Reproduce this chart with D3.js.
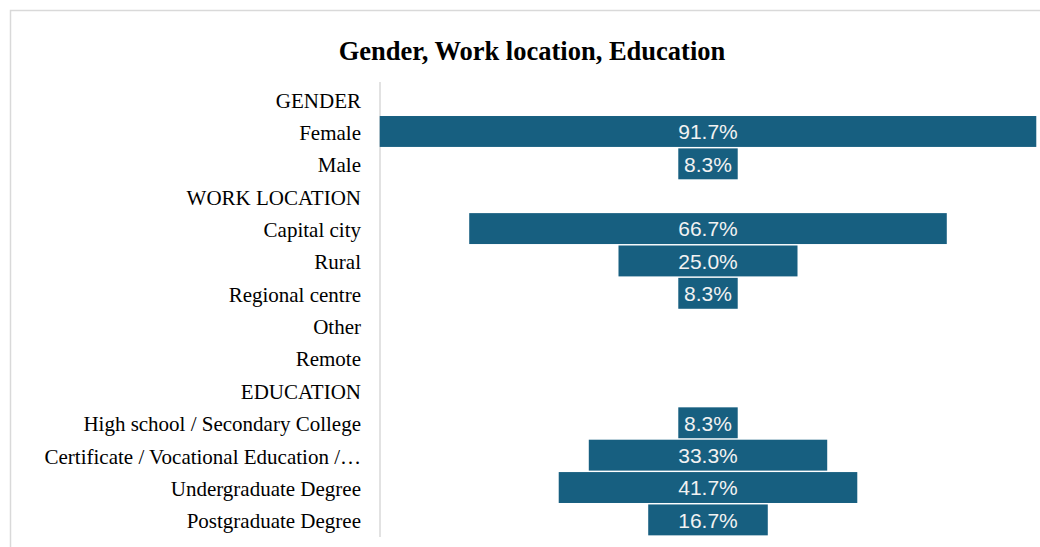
<!DOCTYPE html>
<html>
<head>
<meta charset="utf-8">
<script src="https://cdn.jsdelivr.net/npm/d3@7"></script>
<style>
  body { margin: 0; background: #fff; }
  svg { display: block; }
</style>
</head>
<body>
<svg id="chart" width="1040" height="547"></svg>
<script>
// rows top to bottom; headers have no value
const categories = ["GENDER", "Female", "Male", "WORK LOCATION", "Capital city", "Rural",
  "Regional centre", "Other", "Remote", "EDUCATION", "High school / Secondary College",
  "Certificate / Vocational Education /\u2026", "Undergraduate Degree", "Postgraduate Degree"];
const values = [null, 91.7, 8.3, null, 66.7, 25.0, 8.3, null, null, null, 8.3, 33.3, 41.7, 16.7];
const title = "Gender, Work location, Education";

const svg = d3.select("#chart");

// chart area frame
svg.append("rect")
  .attr("x", 10.5).attr("y", 10.5)
  .attr("width", 1100).attr("height", 600)
  .attr("fill", "none")
  .attr("stroke", "#d9d9d9")
  .attr("stroke-width", 1.5);

svg.append("text")
  .attr("x", 532).attr("y", 60)
  .attr("text-anchor", "middle")
  .attr("font-family", "'Liberation Serif', 'Times New Roman', serif")
  .attr("font-weight", "bold")
  .attr("font-size", 26.5)
  .attr("fill", "#000")
  .text(title);

const rows = categories.map((c, i) => ({ name: c, value: values[i] }));

const y = d3.scaleBand()
  .domain(categories)
  .range([83, 536])
  .paddingInner(0.045)
  .paddingOuter(0.02);

// bars centred on 0, so value v spans -v/2 .. v/2
const x = d3.scaleLinear()
  .domain([-50, 50])
  .range([350, 1066]);

const yAxis = svg.append("g")
  .attr("transform", "translate(380,0)")
  .call(d3.axisLeft(y).tickSize(0).tickPadding(19));

yAxis.select(".domain")
  .attr("stroke", "#d9d9d9")
  .attr("stroke-width", 1.5)
  .attr("d", "M0," + 82 + "V" + 537);

yAxis.selectAll("text")
  .attr("font-family", "'Liberation Serif', 'Times New Roman', serif")
  .attr("font-size", 21)
  .attr("dy", "0.4em")
  .attr("fill", "#000");

const bars = svg.append("g");

bars.selectAll("rect")
  .data(rows.filter(d => d.value != null))
  .enter()
  .append("rect")
  .attr("x", d => x(-d.value / 2))
  .attr("y", d => y(d.name))
  .attr("width", d => x(d.value / 2) - x(-d.value / 2))
  .attr("height", y.bandwidth())
  .attr("fill", "#175f80");

bars.selectAll("text")
  .data(rows.filter(d => d.value != null))
  .enter()
  .append("text")
  .attr("x", x(0))
  .attr("y", d => y(d.name) + y.bandwidth() / 2)
  .attr("dy", "0.37em")
  .attr("text-anchor", "middle")
  .attr("font-family", "'Liberation Sans', Arial, sans-serif")
  .attr("font-size", 21)
  .attr("fill", "#f2f2f2")
  .text(d => d.value.toFixed(1) + "%");
</script>
</body>
</html>
